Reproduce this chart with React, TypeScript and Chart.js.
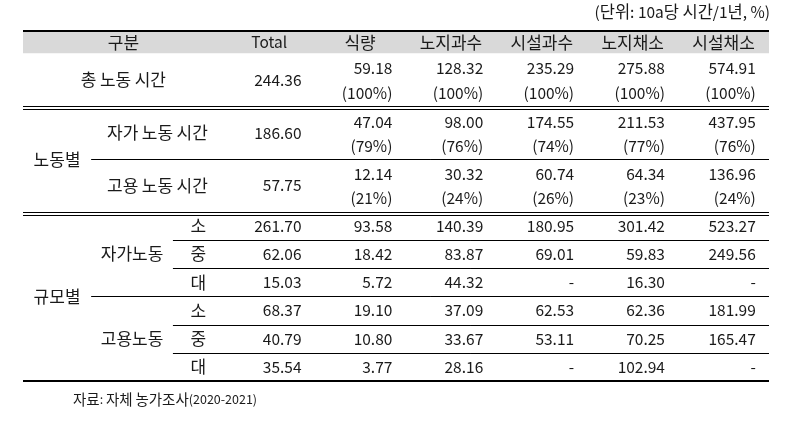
import React, { useEffect, useRef } from "react";
import { Chart, registerables } from "chart.js";

Chart.register(...registerables);

// ---------- data ----------
const headerLabel = "구분";
const columns = ["Total", "식량", "노지과수", "시설과수", "노지채소", "시설채소"];
const unitNote = "(단위: 10a당 시간/1년, %)";
const sourceNote = "자료: 자체 농가조사(2020-2021)";

const totalLabel = "총 노동 시간";
const totalValues = [244.36, 59.18, 128.32, 235.29, 275.88, 574.91];
const totalShares = [null, 100, 100, 100, 100, 100];

const laborGroup = "노동별";
const laborRows = ["자가 노동 시간", "고용 노동 시간"];
const ownLaborValues = [186.6, 47.04, 98.0, 174.55, 211.53, 437.95];
const ownLaborShares = [null, 79, 76, 74, 77, 76];
const hiredLaborValues = [57.75, 12.14, 30.32, 60.74, 64.34, 136.96];
const hiredLaborShares = [null, 21, 24, 26, 23, 24];

const scaleGroup = "규모별";
const scaleSubgroups = ["자가노동", "고용노동"];
const sizes = ["소", "중", "대"];
const ownSmall = [261.7, 93.58, 140.39, 180.95, 301.42, 523.27];
const ownMedium = [62.06, 18.42, 83.87, 69.01, 59.83, 249.56];
const ownLarge = [15.03, 5.72, 44.32, null, 16.3, null];
const hiredSmall = [68.37, 19.1, 37.09, 62.53, 62.36, 181.99];
const hiredMedium = [40.79, 10.8, 33.67, 53.11, 70.25, 165.47];
const hiredLarge = [35.54, 3.77, 28.16, null, 102.94, null];

// ---------- layout (table geometry in scale units) ----------
const labelColUnits = [0.75, 0.9, 0.56];
const labelWidth = labelColUnits.reduce((a, b) => a + b, 0);
const valuePad = 0.145;
const rowUnits = [0.78, 1.86, 1.86, 1.84, 0.99, 0.99, 0.99, 0.99, 0.99, 0.99];
const rowTops: number[] = [];
{
  let acc = 0;
  for (const h of rowUnits) {
    rowTops.push(acc);
    acc += h;
  }
  rowTops.push(acc);
}
const totalRowUnits = rowTops[rowTops.length - 1];
const totalColUnits = labelWidth + columns.length;

const FAMILY = '"Noto Sans CJK KR", "Noto Sans", sans-serif';
const TEXT = "#1a1a1a";
const HANGUL_PX = 17;
const LATIN_PX = 15.5;

type Cell = { x: number; y: number; text: string; align: CanvasTextAlign };

const fmt = (v: number | null) => (v === null ? "-" : v.toFixed(2));
const pct = (v: number) => `(${v}%)`;

function buildCells(): Cell[] {
  const cells: Cell[] = [];
  const mid = (r: number) => (rowTops[r] + rowTops[r + 1]) / 2;
  const line1 = (r: number) => rowTops[r] + rowUnits[r] * 0.29;
  const line2 = (r: number) => rowTops[r] + rowUnits[r] * 0.75;
  const valX = (i: number) => labelWidth + i + 1 - valuePad;

  cells.push({ x: labelWidth / 2, y: mid(0), text: headerLabel, align: "center" });
  columns.forEach((c, i) =>
    cells.push({ x: labelWidth + i + 0.5, y: mid(0), text: c, align: "center" })
  );

  const twoLineRow = (r: number, values: (number | null)[], shares: (number | null)[]) => {
    values.forEach((v, i) => {
      const s = shares[i];
      if (s === null) {
        cells.push({ x: valX(i), y: mid(r), text: fmt(v), align: "right" });
      } else {
        cells.push({ x: valX(i), y: line1(r), text: fmt(v), align: "right" });
        cells.push({ x: valX(i), y: line2(r), text: pct(s), align: "right" });
      }
    });
  };

  cells.push({ x: labelWidth / 2, y: mid(1), text: totalLabel, align: "center" });
  twoLineRow(1, totalValues, totalShares);

  const subX = (labelColUnits[0] + labelWidth) / 2;
  cells.push({ x: labelColUnits[0] / 2, y: rowTops[3], text: laborGroup, align: "center" });
  cells.push({ x: subX, y: mid(2), text: laborRows[0], align: "center" });
  twoLineRow(2, ownLaborValues, ownLaborShares);
  cells.push({ x: subX, y: mid(3), text: laborRows[1], align: "center" });
  twoLineRow(3, hiredLaborValues, hiredLaborShares);

  cells.push({ x: labelColUnits[0] / 2, y: rowTops[7], text: scaleGroup, align: "center" });
  const subCenter = labelColUnits[0] + labelColUnits[1] / 2;
  cells.push({ x: subCenter, y: mid(5), text: scaleSubgroups[0], align: "center" });
  cells.push({ x: subCenter, y: mid(8), text: scaleSubgroups[1], align: "center" });
  const sizeX = labelColUnits[0] + labelColUnits[1] + labelColUnits[2] / 2;
  const scaleRows = [ownSmall, ownMedium, ownLarge, hiredSmall, hiredMedium, hiredLarge];
  scaleRows.forEach((vals, k) => {
    const r = 4 + k;
    cells.push({ x: sizeX, y: mid(r), text: sizes[k % 3], align: "center" });
    vals.forEach((v, i) => cells.push({ x: valX(i), y: mid(r), text: fmt(v), align: "right" }));
  });
  return cells;
}

const HANGUL_RE = /[\uAC00-\uD7A3\u3130-\u318F]+|[^\uAC00-\uD7A3\u3130-\u318F]+/g;

function drawMixed(
  ctx: CanvasRenderingContext2D,
  text: string,
  x: number,
  y: number,
  align: CanvasTextAlign,
  hangulPx: number,
  latinPx: number
) {
  const runs = text.match(HANGUL_RE) || [];
  const parts = runs.map((r) => {
    const isH = /[\uAC00-\uD7A3\u3130-\u318F]/.test(r);
    const font = `${isH ? hangulPx : latinPx}px ${FAMILY}`;
    ctx.font = font;
    return { r, font, w: ctx.measureText(r).width };
  });
  const total = parts.reduce((a, p) => a + p.w, 0);
  let cx = align === "center" ? x - total / 2 : align === "right" ? x - total : x;
  ctx.textAlign = "left";
  for (const p of parts) {
    ctx.font = p.font;
    ctx.fillText(p.r, cx, y);
    cx += p.w;
  }
}

const tablePlugin = {
  id: "tablePlugin",
  beforeDatasetsDraw(chart: any) {
    const { ctx, chartArea, scales } = chart;
    const xs = scales.x;
    const ys = scales.y;
    const L = chartArea.left;
    const R = chartArea.right;
    const py = (v: number) => ys.getPixelForValue(v);
    const px = (v: number) => xs.getPixelForValue(v);
    ctx.save();
    ctx.fillStyle = "#d9d9d9";
    ctx.fillRect(L, py(rowTops[0]), R - L, py(rowTops[1]) - py(rowTops[0]));
    ctx.strokeStyle = "#000";
    const hline = (y: number, x0: number, w: number) => {
      ctx.lineWidth = w;
      const yy = w % 2 === 1 ? Math.round(y) + 0.5 : Math.round(y);
      ctx.beginPath();
      ctx.moveTo(x0, yy);
      ctx.lineTo(R, yy);
      ctx.stroke();
    };
    hline(py(rowTops[0]), L, 2);
    hline(py(rowTops[2]), L, 1);
    hline(py(rowTops[2]) + 3, L, 1);
    hline(py(rowTops[3]), px(labelColUnits[0]), 1);
    hline(py(rowTops[4]), L, 1);
    hline(py(rowTops[4]) + 3, L, 1);
    const innerX = px(labelColUnits[0] + labelColUnits[1]);
    hline(py(rowTops[5]), innerX, 1);
    hline(py(rowTops[6]), innerX, 1);
    hline(py(rowTops[7]), px(labelColUnits[0]), 1);
    hline(py(rowTops[8]), innerX, 1);
    hline(py(rowTops[9]), innerX, 1);
    hline(py(rowTops[10]), L, 2);
    ctx.restore();
  },
  afterDatasetsDraw(chart: any) {
    const { ctx, chartArea } = chart;
    const meta = chart.getDatasetMeta(0);
    const raw = chart.data.datasets[0].data as Cell[];
    ctx.save();
    ctx.fillStyle = TEXT;
    ctx.textBaseline = "middle";
    meta.data.forEach((el: any, i: number) => {
      const c = raw[i];
      drawMixed(ctx, c.text, el.x, el.y, c.align, HANGUL_PX, LATIN_PX);
    });
    drawMixed(ctx, unitNote, chartArea.right + 1, chartArea.top - 19, "right", 16.5, 15.5);
    drawMixed(ctx, sourceNote, chartArea.left + 50, chartArea.bottom + 18, "left", 14.5, 12.5);
    ctx.restore();
  },
};

export default function App() {
  const ref = useRef<HTMLCanvasElement | null>(null);
  useEffect(() => {
    if (!ref.current) return;
    const chart = new Chart(ref.current, {
      type: "scatter",
      data: {
        datasets: [
          {
            data: buildCells() as any,
            pointRadius: 0,
            pointHoverRadius: 0,
          },
        ],
      },
      options: {
        animation: false,
        responsive: true,
        maintainAspectRatio: false,
        events: [],
        layout: { padding: { left: 23, right: 19, top: 31, bottom: 40 } },
        plugins: { legend: { display: false }, tooltip: { enabled: false } },
        scales: {
          x: { type: "linear", min: 0, max: totalColUnits, display: false },
          y: { type: "linear", min: 0, max: totalRowUnits, reverse: true, display: false },
        },
      },
      plugins: [tablePlugin],
    });
    return () => chart.destroy();
  }, []);
  return (
    <div style={{ position: "absolute", left: 0, top: 0, width: 788, height: 421, background: "#fff" }}>
      <canvas ref={ref} />
    </div>
  );
}
